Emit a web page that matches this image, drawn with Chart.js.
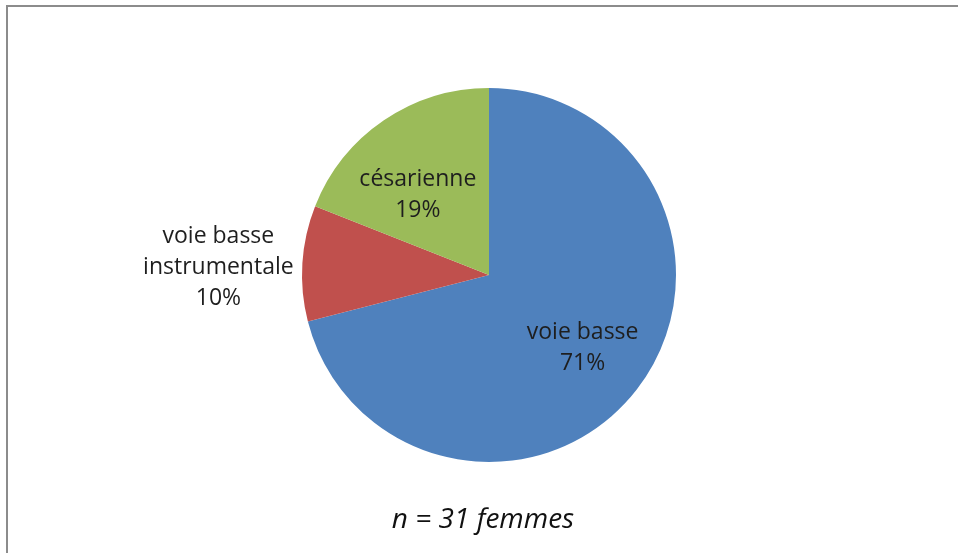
<!DOCTYPE html>
<html>
<head>
<meta charset="utf-8">
<script src="https://cdn.jsdelivr.net/npm/chart.js"></script>
<style>
  html, body { margin: 0; padding: 0; background: #fff; }
  #wrap {
    position: absolute; left: 6px; top: 5px; width: 960px; height: 560px;
    border-top: 2px solid #8c8c8c; border-left: 2px solid #8c8c8c;
  }
  #c { position: absolute; left: 0; top: 0; }
</style>
</head>
<body>
<div id="wrap"></div>
<canvas id="c" width="958" height="553"></canvas>
<script>
// données
const categories = ["voie basse", "voie basse instrumentale", "césarienne"];
const percents = [71, 10, 19];
const colors = ["#4F81BD", "#C0504D", "#9BBB59"];
const note = "n = 31 femmes";

// lignes de texte pour chaque étiquette
const labelLines = [["voie basse"], ["voie basse", "instrumentale"], ["césarienne"]];
// position radiale (fraction du rayon) et petit décalage par étiquette
const labelPlace = [
  { f: 0.62, dx: 2, dy: 2 },
  { f: 1.45, dx: 0, dy: 9 },
  { f: 0.62, dx: -6, dy: 16 }
];

const sliceLabels = {
  id: "sliceLabels",
  afterDatasetsDraw(chart) {
    const ctx = chart.ctx;
    const meta = chart.getDatasetMeta(0);
    ctx.save();
    ctx.font = "23px 'Open Sans'";
    ctx.fillStyle = "#1e1e1e";
    ctx.textAlign = "center";
    ctx.textBaseline = "middle";
    meta.data.forEach((arc, i) => {
      const p = arc.getProps(["x", "y", "startAngle", "endAngle", "outerRadius"], true);
      const mid = (p.startAngle + p.endAngle) / 2;
      const pl = labelPlace[i];
      const cx = p.x + Math.cos(mid) * p.outerRadius * pl.f + pl.dx;
      const cy = p.y + Math.sin(mid) * p.outerRadius * pl.f + pl.dy;
      const lines = labelLines[i].concat([percents[i] + "%"]);
      const lh = 31;
      const y0 = cy - (lines.length - 1) * lh / 2;
      lines.forEach((t, k) => ctx.fillText(t, cx, y0 + k * lh));
    });
    // note en bas
    ctx.font = "italic 28px 'Open Sans'";
    ctx.fillStyle = "#111";
    ctx.fillText(note, 483, 520);
    ctx.restore();
  }
};

new Chart(document.getElementById("c"), {
  type: "pie",
  data: {
    labels: categories,
    datasets: [{
      data: percents,
      backgroundColor: colors,
      borderWidth: 0
    }]
  },
  options: {
    responsive: false,
    animation: false,
    layout: { padding: { left: 302, right: 282, top: 88, bottom: 91 } },
    plugins: {
      legend: { display: false },
      tooltip: { enabled: false }
    }
  },
  plugins: [sliceLabels]
});
</script>
</body>
</html>
